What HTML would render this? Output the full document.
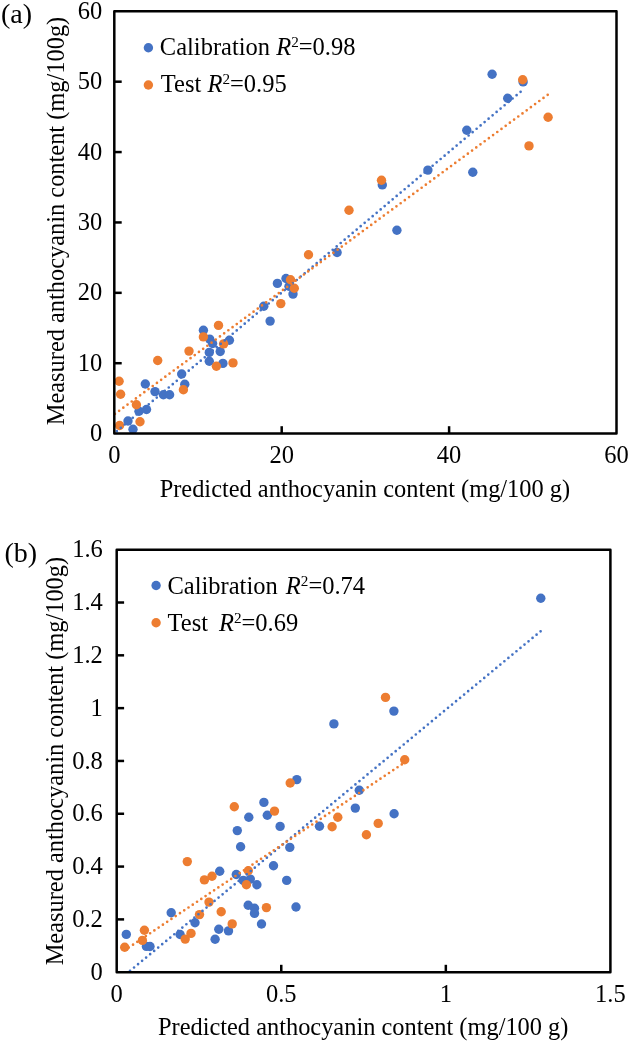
<!DOCTYPE html>
<html><head><meta charset="utf-8"><style>
html,body{margin:0;padding:0;background:#fff;width:629px;height:1042px;overflow:hidden}
svg{display:block;will-change:transform}
text{font-family:"Liberation Serif",serif;fill:#000;white-space:pre}
.t{font-size:24.5px}
.l{font-size:24.5px}
.p{font-size:28px}
.ti{font-size:24.4px}
.sup{font-size:15.19px}
</style></head><body>
<svg width="629" height="1042" viewBox="0 0 629 1042">
<rect width="629" height="1042" fill="#fff"/>
<clipPath id="ca"><rect x="114.3" y="11.3" width="502.2" height="422.3"/></clipPath>
<g clip-path="url(#ca)">
<circle cx="492.1" cy="74.2" r="4.7" fill="#4472C4"/>
<circle cx="523.1" cy="81.9" r="4.7" fill="#4472C4"/>
<circle cx="507.7" cy="98.2" r="4.7" fill="#4472C4"/>
<circle cx="466.8" cy="130.2" r="4.7" fill="#4472C4"/>
<circle cx="427.9" cy="170.1" r="4.7" fill="#4472C4"/>
<circle cx="472.8" cy="172.3" r="4.7" fill="#4472C4"/>
<circle cx="382.3" cy="184.9" r="4.7" fill="#4472C4"/>
<circle cx="396.9" cy="230.2" r="4.7" fill="#4472C4"/>
<circle cx="337.1" cy="252.5" r="4.7" fill="#4472C4"/>
<circle cx="277.4" cy="283.4" r="4.7" fill="#4472C4"/>
<circle cx="286" cy="278.5" r="4.7" fill="#4472C4"/>
<circle cx="289" cy="286.3" r="4.7" fill="#4472C4"/>
<circle cx="293" cy="294.1" r="4.7" fill="#4472C4"/>
<circle cx="263.8" cy="306.2" r="4.7" fill="#4472C4"/>
<circle cx="270.1" cy="321.1" r="4.7" fill="#4472C4"/>
<circle cx="229.4" cy="340.2" r="4.7" fill="#4472C4"/>
<circle cx="203.4" cy="330.2" r="4.7" fill="#4472C4"/>
<circle cx="209.7" cy="339.1" r="4.7" fill="#4472C4"/>
<circle cx="212.6" cy="343.5" r="4.7" fill="#4472C4"/>
<circle cx="209.3" cy="352.4" r="4.7" fill="#4472C4"/>
<circle cx="220.2" cy="351.5" r="4.7" fill="#4472C4"/>
<circle cx="209.3" cy="361.2" r="4.7" fill="#4472C4"/>
<circle cx="222.9" cy="363.4" r="4.7" fill="#4472C4"/>
<circle cx="181.7" cy="374" r="4.7" fill="#4472C4"/>
<circle cx="184.8" cy="384.3" r="4.7" fill="#4472C4"/>
<circle cx="145.3" cy="384" r="4.7" fill="#4472C4"/>
<circle cx="155" cy="391.6" r="4.7" fill="#4472C4"/>
<circle cx="163.4" cy="394.8" r="4.7" fill="#4472C4"/>
<circle cx="169.6" cy="394.8" r="4.7" fill="#4472C4"/>
<circle cx="139" cy="411.3" r="4.7" fill="#4472C4"/>
<circle cx="146.5" cy="409.5" r="4.7" fill="#4472C4"/>
<circle cx="128" cy="421" r="4.7" fill="#4472C4"/>
<circle cx="133" cy="429.3" r="4.7" fill="#4472C4"/>
<circle cx="522.7" cy="79.7" r="4.7" fill="#ED7D31"/>
<circle cx="548.1" cy="117.3" r="4.7" fill="#ED7D31"/>
<circle cx="529" cy="145.9" r="4.7" fill="#ED7D31"/>
<circle cx="381.5" cy="180.2" r="4.7" fill="#ED7D31"/>
<circle cx="349" cy="210.3" r="4.7" fill="#ED7D31"/>
<circle cx="308.5" cy="254.7" r="4.7" fill="#ED7D31"/>
<circle cx="290.5" cy="279.8" r="4.7" fill="#ED7D31"/>
<circle cx="294.3" cy="288.2" r="4.7" fill="#ED7D31"/>
<circle cx="280.8" cy="303.6" r="4.7" fill="#ED7D31"/>
<circle cx="218.5" cy="325.4" r="4.7" fill="#ED7D31"/>
<circle cx="203.4" cy="336.9" r="4.7" fill="#ED7D31"/>
<circle cx="223.6" cy="343.9" r="4.7" fill="#ED7D31"/>
<circle cx="216.4" cy="366.2" r="4.7" fill="#ED7D31"/>
<circle cx="233" cy="362.9" r="4.7" fill="#ED7D31"/>
<circle cx="189" cy="351.1" r="4.7" fill="#ED7D31"/>
<circle cx="157.7" cy="360.5" r="4.7" fill="#ED7D31"/>
<circle cx="183.4" cy="389.8" r="4.7" fill="#ED7D31"/>
<circle cx="119.1" cy="381.2" r="4.7" fill="#ED7D31"/>
<circle cx="120.6" cy="394.2" r="4.7" fill="#ED7D31"/>
<circle cx="136.4" cy="404.7" r="4.7" fill="#ED7D31"/>
<circle cx="140" cy="421.8" r="4.7" fill="#ED7D31"/>
<circle cx="119.6" cy="425.5" r="4.7" fill="#ED7D31"/>
<line x1="520.6" y1="91.8" x2="116.2" y2="431.7" stroke="#4472C4" stroke-width="2.7" stroke-linecap="round" stroke-dasharray="0 5.2228"/>
<line x1="547.7" y1="94.8" x2="114.3" y2="414.35" stroke="#ED7D31" stroke-width="2.7" stroke-linecap="round" stroke-dasharray="0 5.2204"/>
</g>
<rect x="114.3" y="11.3" width="502.2" height="422.3" fill="none" stroke="#000" stroke-width="2.5" stroke-linejoin="round"/>
<line x1="114.3" y1="363.2166666666667" x2="121.7" y2="363.2166666666667" stroke="#000" stroke-width="2.5"/>
<line x1="114.3" y1="292.83333333333337" x2="121.7" y2="292.83333333333337" stroke="#000" stroke-width="2.5"/>
<line x1="114.3" y1="222.45000000000002" x2="121.7" y2="222.45000000000002" stroke="#000" stroke-width="2.5"/>
<line x1="114.3" y1="152.06666666666666" x2="121.7" y2="152.06666666666666" stroke="#000" stroke-width="2.5"/>
<line x1="114.3" y1="81.68333333333334" x2="121.7" y2="81.68333333333334" stroke="#000" stroke-width="2.5"/>
<line x1="281.7" y1="433.6" x2="281.7" y2="426.20000000000005" stroke="#000" stroke-width="2.5"/>
<line x1="449.1" y1="433.6" x2="449.1" y2="426.20000000000005" stroke="#000" stroke-width="2.5"/>
<text x="102.2" y="441.1" text-anchor="end" class="t">0</text>
<text x="102.2" y="370.7" text-anchor="end" class="t">10</text>
<text x="102.2" y="300.3" text-anchor="end" class="t">20</text>
<text x="102.2" y="230.0" text-anchor="end" class="t">30</text>
<text x="102.2" y="159.6" text-anchor="end" class="t">40</text>
<text x="102.2" y="89.2" text-anchor="end" class="t">50</text>
<text x="102.2" y="18.8" text-anchor="end" class="t">60</text>
<text x="114.3" y="463" text-anchor="middle" class="t">0</text>
<text x="281.7" y="463" text-anchor="middle" class="t">20</text>
<text x="449.1" y="463" text-anchor="middle" class="t">40</text>
<text x="616.5" y="463" text-anchor="middle" class="t">60</text>
<text x="364.9" y="496.5" text-anchor="middle" class="ti">Predicted anthocyanin content (mg/100 g)</text>
<text transform="translate(63.8,221) rotate(-90)" text-anchor="middle" class="ti">Measured anthocyanin content (mg/100g)</text>
<text x="1" y="23" class="p">(a)</text>
<circle cx="148.4" cy="47.8" r="4.7" fill="#4472C4"/>
<circle cx="148.4" cy="85" r="4.7" fill="#ED7D31"/>
<text x="159.8" y="55.2" class="l">Calibration <tspan font-style="italic">R</tspan><tspan class="sup" dy="-8">2</tspan><tspan dy="8">=0.98</tspan></text>
<text x="160.8" y="92.4" class="l">Test <tspan font-style="italic">R</tspan><tspan class="sup" dy="-8">2</tspan><tspan dy="8">=0.95</tspan></text>
<clipPath id="cb"><rect x="116.7" y="549.7" width="493.7" height="422.5"/></clipPath>
<g clip-path="url(#cb)">
<circle cx="540.8" cy="598.3" r="4.7" fill="#4472C4"/>
<circle cx="393.9" cy="711.1" r="4.7" fill="#4472C4"/>
<circle cx="333.9" cy="723.9" r="4.7" fill="#4472C4"/>
<circle cx="296.8" cy="779.6" r="4.7" fill="#4472C4"/>
<circle cx="359.3" cy="790.2" r="4.7" fill="#4472C4"/>
<circle cx="355.3" cy="808.1" r="4.7" fill="#4472C4"/>
<circle cx="394.1" cy="813.8" r="4.7" fill="#4472C4"/>
<circle cx="319.5" cy="826.2" r="4.7" fill="#4472C4"/>
<circle cx="263.9" cy="802.4" r="4.7" fill="#4472C4"/>
<circle cx="267.3" cy="815.3" r="4.7" fill="#4472C4"/>
<circle cx="248.8" cy="817.3" r="4.7" fill="#4472C4"/>
<circle cx="280.1" cy="826.4" r="4.7" fill="#4472C4"/>
<circle cx="237.3" cy="830.6" r="4.7" fill="#4472C4"/>
<circle cx="240.6" cy="846.8" r="4.7" fill="#4472C4"/>
<circle cx="289.8" cy="847.4" r="4.7" fill="#4472C4"/>
<circle cx="273.5" cy="865.7" r="4.7" fill="#4472C4"/>
<circle cx="286.7" cy="880.4" r="4.7" fill="#4472C4"/>
<circle cx="219.7" cy="871.3" r="4.7" fill="#4472C4"/>
<circle cx="236.3" cy="874.5" r="4.7" fill="#4472C4"/>
<circle cx="243.3" cy="880.4" r="4.7" fill="#4472C4"/>
<circle cx="250.3" cy="879.1" r="4.7" fill="#4472C4"/>
<circle cx="256.9" cy="884.8" r="4.7" fill="#4472C4"/>
<circle cx="248.2" cy="905.3" r="4.7" fill="#4472C4"/>
<circle cx="254.5" cy="908.2" r="4.7" fill="#4472C4"/>
<circle cx="254.5" cy="913.4" r="4.7" fill="#4472C4"/>
<circle cx="296" cy="907" r="4.7" fill="#4472C4"/>
<circle cx="261.5" cy="924" r="4.7" fill="#4472C4"/>
<circle cx="171.2" cy="912.8" r="4.7" fill="#4472C4"/>
<circle cx="195" cy="922.8" r="4.7" fill="#4472C4"/>
<circle cx="218.8" cy="929.2" r="4.7" fill="#4472C4"/>
<circle cx="228.5" cy="930.9" r="4.7" fill="#4472C4"/>
<circle cx="215.1" cy="939.3" r="4.7" fill="#4472C4"/>
<circle cx="180.1" cy="934.5" r="4.7" fill="#4472C4"/>
<circle cx="126.3" cy="934.4" r="4.7" fill="#4472C4"/>
<circle cx="146.4" cy="946.4" r="4.7" fill="#4472C4"/>
<circle cx="150" cy="946.5" r="4.7" fill="#4472C4"/>
<circle cx="385.5" cy="697.4" r="4.7" fill="#ED7D31"/>
<circle cx="404.7" cy="759.8" r="4.7" fill="#ED7D31"/>
<circle cx="290.2" cy="783" r="4.7" fill="#ED7D31"/>
<circle cx="337.8" cy="817.3" r="4.7" fill="#ED7D31"/>
<circle cx="332.1" cy="826.8" r="4.7" fill="#ED7D31"/>
<circle cx="378.2" cy="823.4" r="4.7" fill="#ED7D31"/>
<circle cx="366.4" cy="834.7" r="4.7" fill="#ED7D31"/>
<circle cx="234.3" cy="806.8" r="4.7" fill="#ED7D31"/>
<circle cx="274.5" cy="811.1" r="4.7" fill="#ED7D31"/>
<circle cx="248.3" cy="870.7" r="4.7" fill="#ED7D31"/>
<circle cx="246.4" cy="884.7" r="4.7" fill="#ED7D31"/>
<circle cx="187.3" cy="861.6" r="4.7" fill="#ED7D31"/>
<circle cx="212" cy="876.3" r="4.7" fill="#ED7D31"/>
<circle cx="204.4" cy="879.9" r="4.7" fill="#ED7D31"/>
<circle cx="209" cy="902.1" r="4.7" fill="#ED7D31"/>
<circle cx="199.5" cy="914.6" r="4.7" fill="#ED7D31"/>
<circle cx="221.2" cy="911.8" r="4.7" fill="#ED7D31"/>
<circle cx="232.2" cy="923.9" r="4.7" fill="#ED7D31"/>
<circle cx="266.4" cy="907.6" r="4.7" fill="#ED7D31"/>
<circle cx="191" cy="933.4" r="4.7" fill="#ED7D31"/>
<circle cx="185.2" cy="939.1" r="4.7" fill="#ED7D31"/>
<circle cx="144.4" cy="930.2" r="4.7" fill="#ED7D31"/>
<circle cx="142.4" cy="940.4" r="4.7" fill="#ED7D31"/>
<circle cx="124.7" cy="947.2" r="4.7" fill="#ED7D31"/>
<line x1="540.6" y1="631.3" x2="125" y2="975" stroke="#4472C4" stroke-width="2.7" stroke-linecap="round" stroke-dasharray="0 5.2235"/>
<line x1="401.8" y1="764.4" x2="124.7" y2="950.3" stroke="#ED7D31" stroke-width="2.7" stroke-linecap="round" stroke-dasharray="0 5.137"/>
</g>
<rect x="116.7" y="549.7" width="493.7" height="422.5" fill="none" stroke="#000" stroke-width="2.5" stroke-linejoin="round"/>
<line x1="116.7" y1="919.3875" x2="124.10000000000001" y2="919.3875" stroke="#000" stroke-width="2.5"/>
<line x1="116.7" y1="866.575" x2="124.10000000000001" y2="866.575" stroke="#000" stroke-width="2.5"/>
<line x1="116.7" y1="813.7625" x2="124.10000000000001" y2="813.7625" stroke="#000" stroke-width="2.5"/>
<line x1="116.7" y1="760.95" x2="124.10000000000001" y2="760.95" stroke="#000" stroke-width="2.5"/>
<line x1="116.7" y1="708.1375" x2="124.10000000000001" y2="708.1375" stroke="#000" stroke-width="2.5"/>
<line x1="116.7" y1="655.325" x2="124.10000000000001" y2="655.325" stroke="#000" stroke-width="2.5"/>
<line x1="116.7" y1="602.5125" x2="124.10000000000001" y2="602.5125" stroke="#000" stroke-width="2.5"/>
<line x1="281.26666666666665" y1="972.2" x2="281.26666666666665" y2="964.8000000000001" stroke="#000" stroke-width="2.5"/>
<line x1="445.8333333333333" y1="972.2" x2="445.8333333333333" y2="964.8000000000001" stroke="#000" stroke-width="2.5"/>
<text x="102.8" y="979.7" text-anchor="end" class="t">0</text>
<text x="102.8" y="926.9" text-anchor="end" class="t">0.2</text>
<text x="102.8" y="874.1" text-anchor="end" class="t">0.4</text>
<text x="102.8" y="821.3" text-anchor="end" class="t">0.6</text>
<text x="102.8" y="768.5" text-anchor="end" class="t">0.8</text>
<text x="102.8" y="715.6" text-anchor="end" class="t">1</text>
<text x="102.8" y="662.8" text-anchor="end" class="t">1.2</text>
<text x="102.8" y="610.0" text-anchor="end" class="t">1.4</text>
<text x="102.8" y="557.2" text-anchor="end" class="t">1.6</text>
<text x="116.7" y="1001.6" text-anchor="middle" class="t">0</text>
<text x="281.3" y="1001.6" text-anchor="middle" class="t">0.5</text>
<text x="445.8" y="1001.6" text-anchor="middle" class="t">1</text>
<text x="610.4" y="1001.6" text-anchor="middle" class="t">1.5</text>
<text x="363.2" y="1034.6" text-anchor="middle" class="ti">Predicted anthocyanin content (mg/100 g)</text>
<text transform="translate(62.9,761.1) rotate(-90)" text-anchor="middle" class="ti">Measured anthocyanin content (mg/100g)</text>
<text x="4.4" y="562" class="p">(b)</text>
<circle cx="156.1" cy="585.5" r="4.7" fill="#4472C4"/>
<circle cx="156.1" cy="622.8" r="4.7" fill="#ED7D31"/>
<text x="167.5" y="593.5" class="l">Calibration <tspan dx="2" font-style="italic">R</tspan><tspan class="sup" dy="-8">2</tspan><tspan dy="8">=0.74</tspan></text>
<text x="167.5" y="631" class="l">Test <tspan dx="4.8" font-style="italic">R</tspan><tspan class="sup" dy="-8">2</tspan><tspan dy="8">=0.69</tspan></text>
</svg>
</body></html>
